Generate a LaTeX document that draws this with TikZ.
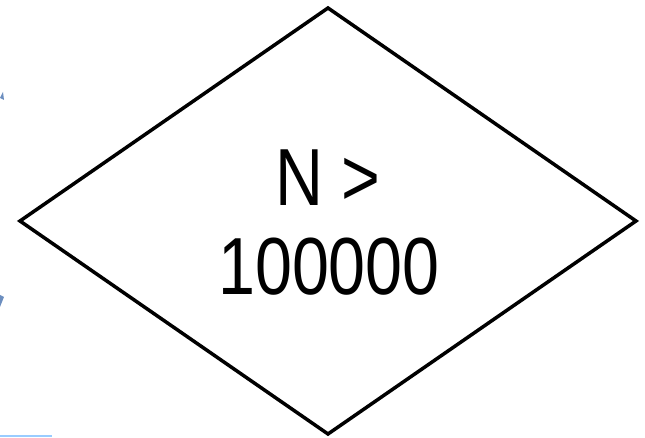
\documentclass[tikz,border=0pt]{standalone}
\usepackage{fontspec}
\newfontfamily\diafont[FakeStretch=0.82]{Liberation Sans}
\definecolor{arrowblue}{HTML}{6C8EBF}
\definecolor{lineblue}{HTML}{99CCFF}
\tikzset{
  decision/.style={draw=black, line width=3.5pt, line join=miter},
  dectext/.style={font=\diafont\fontsize{81}{89}\selectfont, text=black, inner sep=0pt, anchor=base},
  fragarrow/.style={fill=arrowblue, draw=none},
  fragline/.style={draw=lineblue, line width=2.5pt}
}
\begin{document}
\begin{tikzpicture}[x=1pt,y=1pt]
\useasboundingbox (0,0) rectangle (645,438);
% diamond corners (y = 438 - pixel y)
\coordinate (top) at (328,430);
\coordinate (right) at (636,217);
\coordinate (bottom) at (328,4);
\coordinate (left) at (20,217);
\draw[decision] (top) -- (right) -- (bottom) -- (left) -- cycle;
\node[dectext] (line1) at (328,232) {N >};
\node[dectext] (line2) at (329,143) {100000};
% cut-off fragments at the left edge
\fill[fragarrow] (0,340) -- (3,346) -- (4,338) -- cycle;
\fill[fragarrow] (0,131) -- (4,141) -- (0,143) -- cycle;
\coordinate (fragA) at (0,2);
\coordinate (fragB) at (52,2);
\draw[fragline] (fragA) -- (fragB);
\end{tikzpicture}
\end{document}
